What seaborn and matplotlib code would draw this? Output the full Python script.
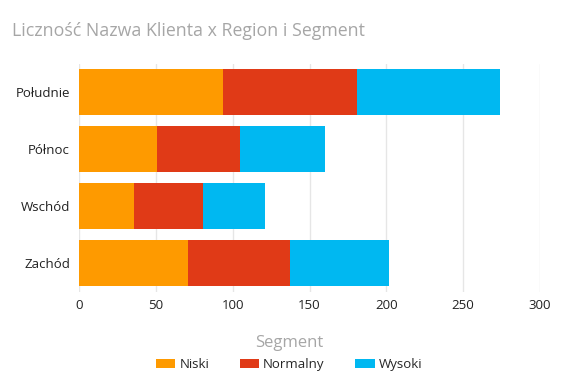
import matplotlib
matplotlib.use("Agg")
import matplotlib.pyplot as plt
import seaborn as sns
import pandas as pd
import numpy as np
from matplotlib.patches import Patch

regions = ["Południe", "Północ", "Wschód", "Zachód"]
segments = ["Niski", "Normalny", "Wysoki"]
niski = [94, 51, 36, 71]
normalny = [87, 54, 45, 66]
wysoki = [93, 55, 40, 65]
colors = ["#FE9A00", "#E03A17", "#00B8F1"]
xticks = [0, 50, 100, 150, 200, 250, 300]

sns.set_theme(style="white")
plt.rcParams["font.family"] = ["Open Sans", "DejaVu Sans"]

df = pd.DataFrame({"Region": regions, "Niski": niski, "Normalny": normalny, "Wysoki": wysoki})
df["c1"] = df["Niski"]
df["c2"] = df["Niski"] + df["Normalny"]
df["c3"] = df["c2"] + df["Wysoki"]

fig = plt.figure(figsize=(5.71, 3.84), dpi=100)
ax = fig.add_axes([79 / 571, 1 - 291.5 / 384, (540 - 79) / 571, (291.5 - 63.5) / 384])

for col, c in zip(["c3", "c2", "c1"], colors[::-1]):
    sns.barplot(data=df, x=col, y="Region", order=regions, color=c, width=0.8,
                saturation=1, ax=ax, linewidth=0, zorder=3)

ax.set_xlim(0, 300)
ax.set_xticks(xticks)
ax.set_xticklabels([str(t) for t in xticks])
ax.set_xlabel("")
ax.set_ylabel("")
ax.grid(axis="x", color="#e6e6e6", linewidth=1, zorder=0)
ax.set_axisbelow(True)
for s in ax.spines.values():
    s.set_visible(False)
ax.tick_params(axis="both", length=0, labelsize=9.5, colors="#222222")
ax.tick_params(axis="x", pad=5.5)
ax.tick_params(axis="y", pad=6.5)

fig.text(12 / 571, 1 - 31 / 384, "Liczność Nazwa Klienta x Region i Segment",
         fontsize=12.8, color="#a6a6a6", va="center", ha="left")

handles = [Patch(facecolor=c, edgecolor="none") for c in colors]
leg = fig.legend(handles, segments, loc="center", bbox_to_anchor=(289 / 571, 1 - 353 / 384),
                 ncol=3, frameon=False, title="Segment", fontsize=9.5,
                 title_fontsize=12, handlelength=1.5, handleheight=0.7,
                 handletextpad=0.3, columnspacing=2.3, borderpad=0, labelspacing=0.6)
leg.get_title().set_color("#a6a6a6")

fig.savefig("out.png", dpi=100, facecolor="white")
